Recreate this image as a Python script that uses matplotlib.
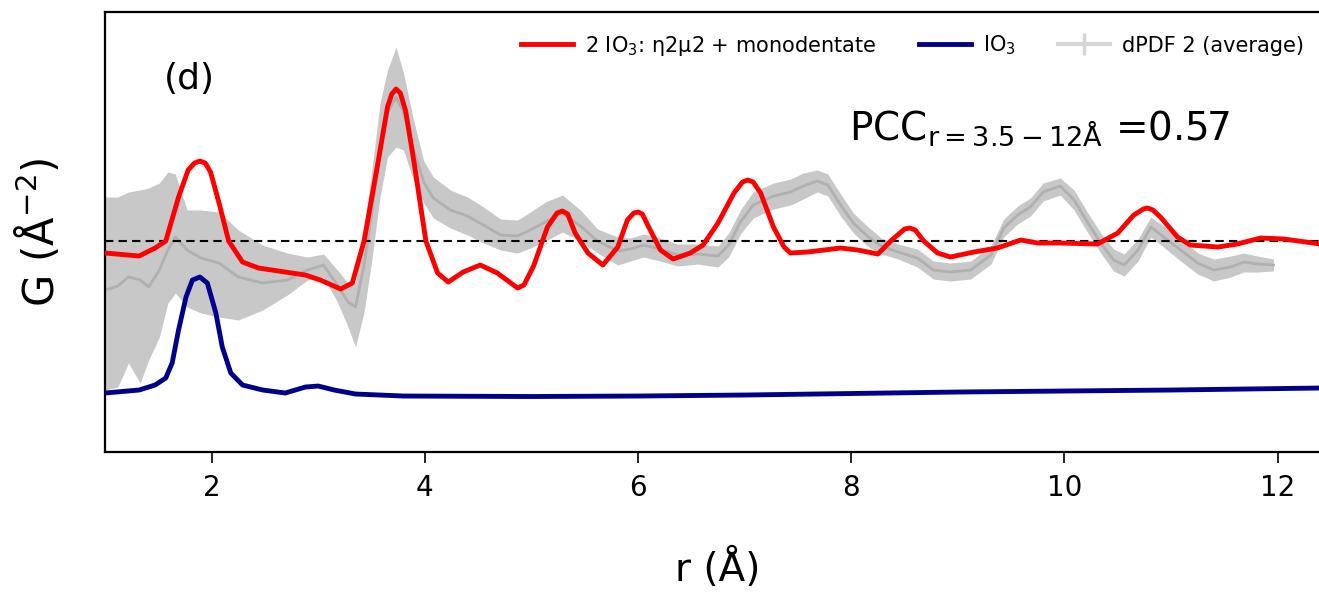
import numpy as np
import matplotlib
matplotlib.use("Agg")
import matplotlib.pyplot as plt
from matplotlib.lines import Line2D

# model: 2 IO3, eta2mu2 + monodentate
r_model = [1.00, 1.32, 1.47, 1.57, 1.69, 1.78, 1.84, 1.89, 1.94, 1.99, 2.07, 2.16, 2.29, 2.44,
           2.69, 2.88, 3.02, 3.21, 3.32, 3.43, 3.56, 3.65, 3.69, 3.73, 3.77, 3.82, 3.90, 4.01,
           4.12, 4.22, 4.36, 4.52, 4.68, 4.87, 4.93, 5.02, 5.15, 5.24, 5.29, 5.34, 5.41, 5.53,
           5.67, 5.81, 5.90, 5.96, 6.00, 6.04, 6.10, 6.21, 6.33, 6.49, 6.61, 6.75, 6.90, 6.98,
           7.03, 7.08, 7.15, 7.27, 7.37, 7.43, 7.59, 7.90, 8.06, 8.25, 8.37, 8.50, 8.55, 8.60,
           8.68, 8.81, 8.93, 9.15, 9.37, 9.59, 9.75, 9.96, 10.31, 10.50, 10.65, 10.74, 10.78,
           10.83, 10.90, 11.06, 11.18, 11.44, 11.62, 11.84, 12.06, 12.40]
g_model = [-0.12, -0.15, -0.07, 0.00, 0.44, 0.71, 0.78, 0.80, 0.78, 0.69, 0.38, 0.00, -0.21, -0.27,
           -0.31, -0.34, -0.39, -0.48, -0.42, 0.00, 0.78, 1.34, 1.47, 1.52, 1.48, 1.30, 0.78, 0.00,
           -0.32, -0.41, -0.31, -0.24, -0.32, -0.47, -0.44, -0.25, 0.14, 0.28, 0.30, 0.27, 0.08, -0.12,
           -0.24, -0.06, 0.21, 0.28, 0.29, 0.27, 0.14, -0.09, -0.18, -0.12, -0.04, 0.18, 0.48, 0.59,
           0.61, 0.59, 0.48, 0.14, -0.06, -0.12, -0.11, -0.07, -0.09, -0.13, 0.00, 0.12, 0.13, 0.11,
           0.00, -0.12, -0.16, -0.11, -0.07, 0.01, -0.02, -0.02, -0.03, 0.08, 0.26, 0.32, 0.33,
           0.31, 0.24, 0.04, -0.04, -0.06, -0.03, 0.03, 0.02, -0.03]

# single IO3
r_io3 = [1.00, 1.32, 1.47, 1.57, 1.63, 1.69, 1.76, 1.82, 1.89, 1.96, 2.04, 2.10, 2.18, 2.29,
         2.48, 2.69, 2.88, 3.00, 3.15, 3.35, 3.80, 5.00, 6.00, 7.00, 8.00, 9.00, 10.00, 11.00, 12.40]
g_io3 = [-1.52, -1.49, -1.44, -1.37, -1.22, -0.89, -0.56, -0.39, -0.36, -0.42, -0.72, -1.06, -1.32, -1.44,
         -1.49, -1.52, -1.46, -1.45, -1.49, -1.53, -1.55, -1.555, -1.55, -1.54, -1.525, -1.51, -1.50, -1.49, -1.47]

# dPDF 2 (average) with spread
r_dpdf = [1.00, 1.12, 1.22, 1.33, 1.41, 1.51, 1.59, 1.66, 1.77, 1.90, 2.07, 2.25, 2.48, 2.71,
          2.90, 3.05, 3.18, 3.28, 3.35, 3.43, 3.50, 3.58, 3.65, 3.73, 3.80, 3.89, 3.99, 4.08,
          4.24, 4.40, 4.55, 4.71, 4.87, 4.99, 5.13, 5.29, 5.46, 5.62, 5.81, 5.93, 6.05, 6.21,
          6.37, 6.56, 6.75, 6.85, 6.96, 7.08, 7.27, 7.43, 7.55, 7.68, 7.78, 7.90, 8.02, 8.15,
          8.28, 8.44, 8.62, 8.77, 8.93, 9.12, 9.31, 9.43, 9.56, 9.68, 9.80, 9.96, 10.09, 10.22,
          10.34, 10.46, 10.56, 10.69, 10.81, 10.93, 11.09, 11.25, 11.40, 11.56, 11.68, 11.81, 11.96]
g_dpdf = [-0.49, -0.45, -0.36, -0.39, -0.46, -0.29, -0.09, 0.04, -0.09, -0.17, -0.22, -0.36, -0.42, -0.39,
          -0.29, -0.24, -0.44, -0.61, -0.66, -0.24, 0.26, 0.91, 1.28, 1.44, 1.29, 0.93, 0.59, 0.43,
          0.31, 0.25, 0.16, 0.06, 0.05, 0.11, 0.19, 0.28, 0.15, 0.00, -0.10, -0.08, -0.04, -0.08,
          -0.14, -0.13, -0.15, -0.04, 0.19, 0.36, 0.45, 0.49, 0.55, 0.60, 0.56, 0.36, 0.18, 0.05,
          -0.05, -0.11, -0.17, -0.29, -0.31, -0.29, -0.14, 0.13, 0.26, 0.34, 0.49, 0.55, 0.41, 0.18,
          -0.02, -0.19, -0.24, -0.09, 0.14, 0.04, -0.09, -0.22, -0.29, -0.26, -0.21, -0.23, -0.24]
g_dpdf_hi = [0.44, 0.44, 0.49, 0.51, 0.53, 0.58, 0.69, 0.67, 0.31, 0.31, 0.29, 0.11, -0.04, -0.12,
             -0.16, -0.13, -0.29, -0.42, -0.42, 0.13, 0.68, 1.38, 1.71, 1.94, 1.68, 1.23, 0.80, 0.64,
             0.51, 0.44, 0.34, 0.22, 0.21, 0.29, 0.39, 0.46, 0.31, 0.12, 0.04, 0.03, 0.07, 0.03,
             -0.03, -0.03, -0.05, 0.08, 0.31, 0.49, 0.58, 0.62, 0.68, 0.71, 0.67, 0.47, 0.28, 0.15,
             0.03, -0.03, -0.08, -0.20, -0.22, -0.20, -0.05, 0.22, 0.35, 0.43, 0.58, 0.63, 0.51, 0.28,
             0.08, -0.08, -0.13, 0.02, 0.24, 0.15, 0.02, -0.12, -0.18, -0.15, -0.12, -0.15, -0.18]
g_dpdf_lo = [-1.49, -1.46, -1.22, -1.42, -1.19, -0.96, -0.62, -0.52, -0.66, -0.72, -0.76, -0.79, -0.69, -0.54,
             -0.39, -0.36, -0.61, -0.86, -1.06, -0.71, -0.21, 0.44, 0.84, 0.94, 0.91, 0.62, 0.38, 0.23,
             0.13, 0.06, -0.02, -0.09, -0.12, -0.07, 0.00, 0.09, 0.00, -0.12, -0.24, -0.20, -0.16, -0.20,
             -0.25, -0.23, -0.26, -0.16, 0.07, 0.23, 0.32, 0.36, 0.42, 0.49, 0.45, 0.25, 0.08, -0.05,
             -0.13, -0.18, -0.26, -0.38, -0.40, -0.38, -0.23, 0.04, 0.17, 0.25, 0.40, 0.46, 0.31, 0.08,
             -0.12, -0.30, -0.35, -0.20, 0.04, -0.06, -0.20, -0.33, -0.40, -0.36, -0.31, -0.31, -0.30]

x_ticks = [2, 4, 6, 8, 10, 12]

fig = plt.figure(figsize=(13.19, 5.95), dpi=100)
ax = fig.add_axes([0.0796, 0.2403, 0.9295, 0.7395])

ax.fill_between(r_dpdf, g_dpdf_lo, g_dpdf_hi, color="#c8c8c8", linewidth=0, zorder=1)
ax.plot(r_dpdf, g_dpdf, color="#b0b0b0", lw=2, zorder=2)
ax.axhline(0, color="black", ls="--", lw=1.5, dashes=(4, 2.5), zorder=3)
ax.plot(r_model, g_model, color="#ff0000", lw=3.5, zorder=4,
        label=r"2 IO$_3$: η2μ2 + monodentate")
ax.plot(r_io3, g_io3, color="#00008b", lw=3.5, zorder=4, label=r"IO$_3$")

ax.set_xlim(1, 12.5)
ax.set_ylim(-2.11, 2.29)
ax.set_xticks(x_ticks)
ax.set_yticks([])
ax.tick_params(axis="x", labelsize=20, length=8, width=1.2, pad=8)
for s in ax.spines.values():
    s.set_linewidth(1.6)

ax.set_xlabel("r (Å)", fontsize=28, labelpad=33)
ax.set_ylabel(r"G (Å$^{-2}$)", fontsize=30, labelpad=30)

ax.text(0.048, 0.825, "(d)", transform=ax.transAxes, fontsize=26)
ax.text(0.607, 0.71, r"PCC$_{\mathrm{r=3.5-12Å}}$ =0.57", transform=ax.transAxes, fontsize=28)

handles, labels = ax.get_legend_handles_labels()
handles.append(Line2D([], [], color="#d6d6d6", lw=3, marker="|", markersize=16, markeredgewidth=2.5))
labels.append("dPDF 2 (average)")
fig.legend(handles, labels, loc="upper right", bbox_to_anchor=(1.003, 0.975), ncol=3,
           frameon=False, fontsize=15, handlelength=2.5, handletextpad=0.6, columnspacing=2.0)

fig.savefig("out.png", dpi=100)
